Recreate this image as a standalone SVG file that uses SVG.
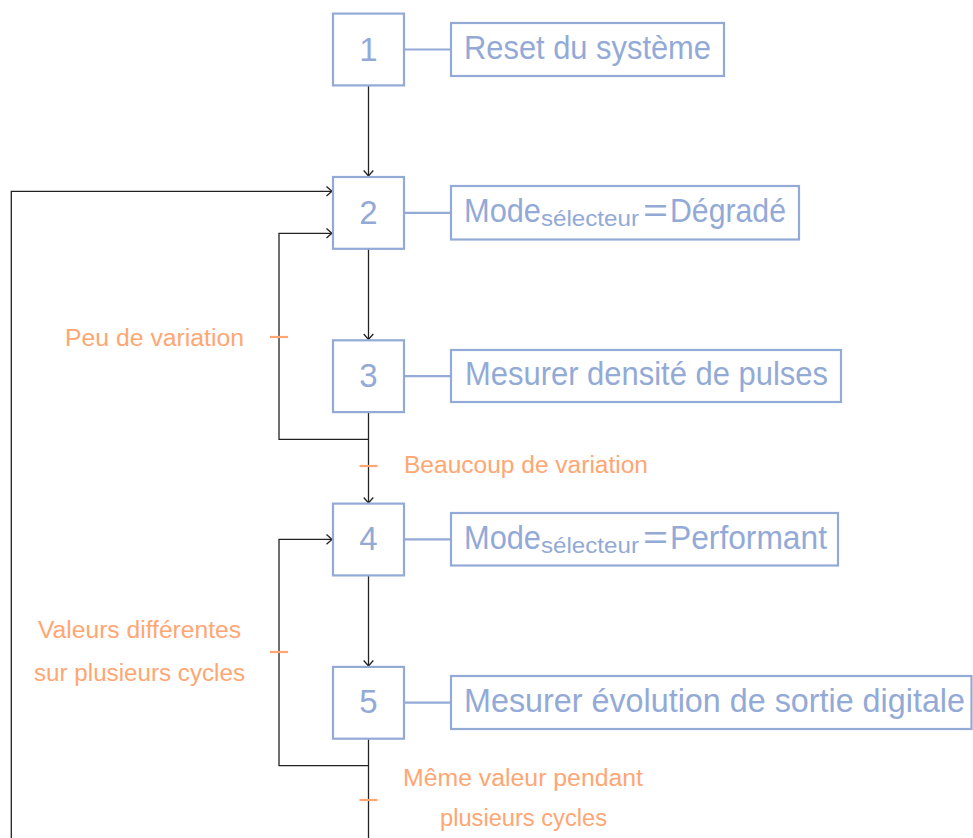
<svg xmlns="http://www.w3.org/2000/svg" width="973" height="838" viewBox="0 0 973 838">
<defs>
<style>
.step{fill:#fff;stroke:#93AAD7;stroke-width:2.2}
.act{fill:#fff;stroke:#93AAD7;stroke-width:2.2}
.link{stroke:#93AAD7;stroke-width:2.2;fill:none}
.num{font-family:"Liberation Sans",Arial,sans-serif;font-size:33px;fill:#93AAD7;text-anchor:middle}
.txt{font-family:"Liberation Sans",Arial,sans-serif;font-size:33px;fill:#93AAD7}
.sub{font-family:"Liberation Sans",Arial,sans-serif;font-size:22px;fill:#93AAD7}
.lbl{font-family:"Liberation Sans",Arial,sans-serif;font-size:23px;fill:#FFA673}
.wire{stroke:#222;stroke-width:1.3;fill:none}
.tick{stroke:#FFA673;stroke-width:2.2}
</style>
<marker id="arr" markerUnits="userSpaceOnUse" markerWidth="14" markerHeight="14" refX="0" refY="0" viewBox="-8 -7 10 14" orient="auto">
<path d="M-5.5,-4.8 Q-1.5,-1.2 0,0 Q-1.5,1.2 -5.5,4.8" fill="none" stroke="#222" stroke-width="1.3"/>
</marker>
</defs>
<rect width="973" height="838" fill="#fff"/>
<g id="connectors">
<line class="wire" x1="368.5" y1="85.5" x2="368.5" y2="176" marker-end="url(#arr)"/>
<line class="wire" x1="368.5" y1="249" x2="368.5" y2="339.5" marker-end="url(#arr)"/>
<line class="wire" x1="368.5" y1="411.5" x2="368.5" y2="503" marker-end="url(#arr)"/>
<polyline class="wire" points="368.5,439.3 279,439.3 279,233.3 332,233.3" marker-end="url(#arr)"/>
<line class="wire" x1="368.5" y1="575.5" x2="368.5" y2="666" marker-end="url(#arr)"/>
<line class="wire" x1="368.5" y1="738" x2="368.5" y2="838"/>
<polyline class="wire" points="368.5,765.7 279,765.7 279,539.4 332,539.4" marker-end="url(#arr)"/>
<polyline class="wire" points="11.3,838 11.3,191.3 332,191.3" marker-end="url(#arr)"/>
<line class="tick" x1="270" y1="337" x2="288" y2="337"/>
<line class="tick" x1="359.5" y1="466" x2="377.5" y2="466"/>
<line class="tick" x1="270" y1="652" x2="288" y2="652"/>
<line class="tick" x1="359.5" y1="800" x2="377.5" y2="800"/>
<text class="lbl" x="244" y="345.5" text-anchor="end" textLength="179" lengthAdjust="spacingAndGlyphs">Peu de variation</text>
<text class="lbl" x="404" y="473" textLength="244" lengthAdjust="spacingAndGlyphs">Beaucoup de variation</text>
<text class="lbl" x="38" y="637.7" textLength="203" lengthAdjust="spacingAndGlyphs">Valeurs différentes</text>
<text class="lbl" x="34" y="681" textLength="211" lengthAdjust="spacingAndGlyphs">sur plusieurs cycles</text>
<text class="lbl" x="403" y="786" textLength="240" lengthAdjust="spacingAndGlyphs">Même valeur pendant</text>
<text class="lbl" x="440" y="826" textLength="167" lengthAdjust="spacingAndGlyphs">plusieurs cycles</text>
</g>
<g id="step1">
<rect class="step" x="333" y="13.6" width="71" height="71.8"/>
<text class="num" x="368.5" y="61">1</text>
<line class="link" x1="404" y1="49.5" x2="451" y2="49.5"/>
<rect class="act" x="451" y="23" width="273" height="53"/>
<text class="txt" x="464" y="59.3" textLength="247" lengthAdjust="spacingAndGlyphs">Reset du système</text>
</g>
<g id="step2">
<rect class="step" x="333" y="177" width="71" height="71.8"/>
<text class="num" x="368.5" y="223.5">2</text>
<line class="link" x1="404" y1="212.8" x2="451" y2="212.8"/>
<rect class="act" x="451" y="186" width="348" height="53.5"/>
<text class="txt" x="464" y="222" textLength="77" lengthAdjust="spacingAndGlyphs">Mode</text>
<text class="sub" x="541" y="226" textLength="98" lengthAdjust="spacingAndGlyphs">sélecteur</text>
<text class="txt" x="643" y="222" textLength="25" lengthAdjust="spacingAndGlyphs">=</text>
<text class="txt" x="670" y="222" textLength="116" lengthAdjust="spacingAndGlyphs">Dégradé</text>
</g>
<g id="step3">
<rect class="step" x="333" y="340.3" width="71" height="71.8"/>
<text class="num" x="368.5" y="386.8">3</text>
<line class="link" x1="404" y1="376.1" x2="451" y2="376.1"/>
<rect class="act" x="451" y="350" width="390" height="52"/>
<text class="txt" x="465" y="385" textLength="363" lengthAdjust="spacingAndGlyphs">Mesurer densité de pulses</text>
</g>
<g id="step4">
<rect class="step" x="333" y="503.6" width="71" height="71.8"/>
<text class="num" x="368.5" y="550.1">4</text>
<line class="link" x1="404" y1="539.4" x2="451" y2="539.4"/>
<rect class="act" x="451" y="513" width="387" height="52.5"/>
<text class="txt" x="464" y="549.3" textLength="77" lengthAdjust="spacingAndGlyphs">Mode</text>
<text class="sub" x="541" y="553.3" textLength="98" lengthAdjust="spacingAndGlyphs">sélecteur</text>
<text class="txt" x="643" y="549.3" textLength="25" lengthAdjust="spacingAndGlyphs">=</text>
<text class="txt" x="670" y="549.3" textLength="157" lengthAdjust="spacingAndGlyphs">Performant</text>
</g>
<g id="step5">
<rect class="step" x="333" y="666.9" width="71" height="71.8"/>
<text class="num" x="368.5" y="713.4">5</text>
<line class="link" x1="404" y1="702.7" x2="451" y2="702.7"/>
<rect class="act" x="451" y="676" width="520.5" height="53"/>
<text class="txt" x="464" y="712.3" textLength="501" lengthAdjust="spacingAndGlyphs">Mesurer évolution de sortie digitale</text>
</g>
</svg>
